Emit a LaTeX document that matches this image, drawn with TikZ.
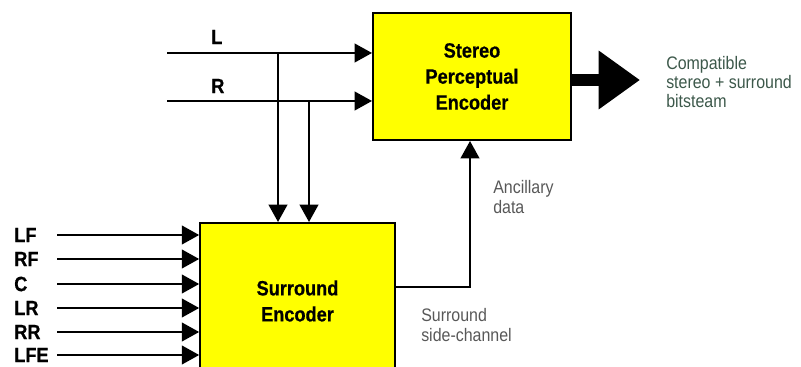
\documentclass[tikz,border=0pt]{standalone}
\usepackage{fontspec}
\setmainfont{Liberation Sans}[FakeStretch=0.88, BoldFeatures={FakeBold=0.6}]
\usetikzlibrary{arrows.meta}
\definecolor{boxyellow}{RGB}{255,255,0}
\definecolor{notegreen}{RGB}{60,88,74}
\definecolor{notegray}{RGB}{88,88,88}

\tikzset{
    encbox/.style={draw, line width=1.5pt, fill=boxyellow, align=center,
        font=\bfseries\fontsize{15.5}{19.5}\selectfont},
    chlabel/.style={anchor=west, inner sep=0pt,
        font=\bfseries\fontsize{15.5}{18}\selectfont},
    note/.style={anchor=west, inner sep=0pt, align=left, text=notegray,
        font=\fontsize{13.6}{14.5}\selectfont},
    sig/.style={line width=1.5pt, -{Triangle[length=13pt,width=14pt]}},
    wire/.style={line width=1.5pt}
}

\begin{document}
\begin{tikzpicture}[x=0.75pt,y=-0.75pt]
    \useasboundingbox (0,0) rectangle (801,367);

    % encoders
    \node[encbox, minimum width=148.5pt, minimum height=95.25pt] (spe) at (472,76.5)
        {Stereo\\Perceptual\\Encoder};
    \node[encbox, minimum width=146pt, minimum height=117pt] (sur) at (297.5,301)
        {Surround\\Encoder};

    % multichannel inputs
    \foreach \ch/\y in {LF/235, RF/259, C/284, LR/308, RR/332, LFE/355} {
        \node[chlabel] (lbl\ch) at (14,\y) {\ch};
        \coordinate (src\ch) at (57,\y);
        \draw[sig] (src\ch) -- (src\ch -| sur.west);
    }

    % stereo downmix, also fed to the surround encoder
    \node[chlabel] (lblL) at (211,37) {L};
    \node[chlabel] (lblR) at (211,86) {R};
    \coordinate (srcL) at (167,53);
    \coordinate (srcR) at (167,101);
    \draw[sig] (srcL) -- (srcL -| spe.west);
    \draw[sig] (srcR) -- (srcR -| spe.west);
    \coordinate (tapL) at (278,53);
    \coordinate (tapR) at (309,101);
    \draw[sig] (tapL) -- (tapL |- sur.north);
    \draw[sig] (tapR) -- (tapR |- sur.north);

    % side channel -> ancillary data
    \coordinate (side) at (sur.east |- 0,287);
    \coordinate (anc) at (470,0);
    \draw[sig] (side) -| (anc |- spe.south);
    \node[note] (ancnote) at (493,197) {Ancillary\\data};
    \node[note] (sidenote) at (421,325) {Surround\\side-channel};

    % output bitstream
    \coordinate (out) at (640,80);
    \draw[line width=9pt, -{Triangle[length=31pt,width=42pt]}] (spe.east |- out) -- (out);
    \node[note, text=notegreen] (outnote) at (666,82) {Compatible\\stereo + surround\\bitsteam};
\end{tikzpicture}
\end{document}
